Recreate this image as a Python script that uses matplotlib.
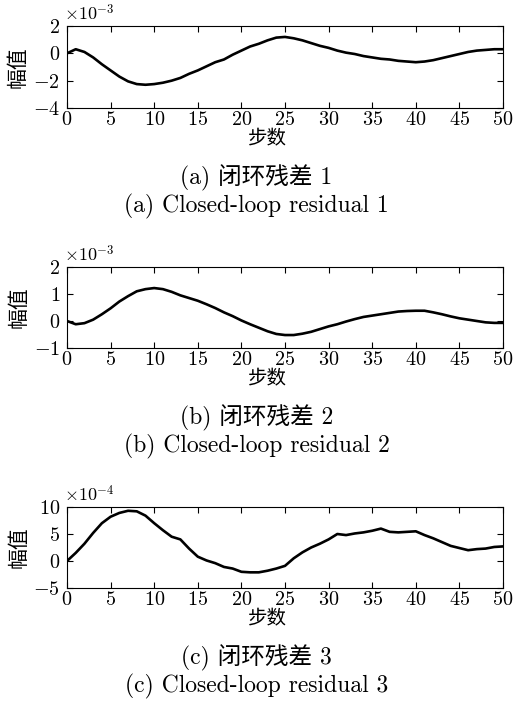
import numpy as np
import matplotlib.pyplot as plt
from matplotlib.ticker import MultipleLocator

plt.rcParams['mathtext.fontset'] = 'cm'
plt.rcParams['font.family'] = ['cmr10', 'Noto Sans CJK SC']
plt.rcParams['axes.unicode_minus'] = False

steps = np.arange(0, 51)

# 闭环残差 1 (x1e-3)
res1 = [0.0, 0.3, 0.1, -0.3, -0.8, -1.25, -1.7, -2.05, -2.25, -2.3,
        -2.25, -2.15, -2.0, -1.8, -1.5, -1.25, -0.95, -0.65, -0.45, -0.1,
        0.2, 0.5, 0.7, 0.95, 1.15, 1.2, 1.1, 0.95, 0.75, 0.55,
        0.4, 0.2, 0.05, -0.05, -0.2, -0.3, -0.4, -0.45, -0.55, -0.6,
        -0.65, -0.6, -0.5, -0.35, -0.2, -0.05, 0.1, 0.2, 0.25, 0.3, 0.3]
# 闭环残差 2 (x1e-3)
res2 = [0.0, -0.12, -0.08, 0.05, 0.25, 0.47, 0.72, 0.92, 1.1, 1.18,
        1.22, 1.18, 1.08, 0.95, 0.85, 0.75, 0.62, 0.48, 0.32, 0.18,
        0.02, -0.12, -0.25, -0.38, -0.48, -0.52, -0.52, -0.47, -0.4, -0.3,
        -0.2, -0.12, -0.02, 0.07, 0.15, 0.2, 0.25, 0.3, 0.35, 0.37,
        0.38, 0.38, 0.32, 0.25, 0.17, 0.1, 0.05, 0.0, -0.05, -0.07, -0.07]
# 闭环残差 3 (x1e-4)
res3 = [0.0, 1.5, 3.2, 5.2, 7.0, 8.2, 8.9, 9.3, 9.2, 8.4,
        7.0, 5.7, 4.5, 4.0, 2.3, 0.8, 0.1, -0.4, -1.1, -1.4,
        -2.0, -2.1, -2.1, -1.8, -1.4, -0.9, 0.5, 1.6, 2.5, 3.2,
        4.0, 5.0, 4.8, 5.1, 5.3, 5.6, 6.0, 5.4, 5.3, 5.4,
        5.5, 4.8, 4.2, 3.5, 2.8, 2.4, 2.0, 2.2, 2.3, 2.6, 2.7]

series = [res1, res2, res3]
ylims = [(-4, 2), (-1, 2), (-5, 10)]
ysteps = [2, 1, 5]
exps = ['-3', '-3', '-4']
cap_cn = ['(a) 闭环残差 1', '(b) 闭环残差 2', '(c) 闭环残差 3']
cap_en = ['(a) Closed-loop residual 1', '(b) Closed-loop residual 2', '(c) Closed-loop residual 3']

W, H = 513, 703
fig = plt.figure(figsize=(W / 100, H / 100), dpi=100)

# 每个子图的像素位置: 上, 下
boxes = [(26, 108), (267, 348), (507, 588)]
left, right = 67, 503

for i in range(3):
    top, bot = boxes[i]
    ax = fig.add_axes([left / W, 1 - bot / H, (right - left) / W, (bot - top) / H])
    ax.plot(steps, series[i], color='black', lw=1.9)
    ax.set_xlim(0, 50)
    ax.set_ylim(*ylims[i])
    ax.xaxis.set_major_locator(MultipleLocator(5))
    ax.yaxis.set_major_locator(MultipleLocator(ysteps[i]))
    ax.set_xticklabels([f'${int(v)}$' for v in ax.get_xticks()])
    ax.set_yticklabels([f'${int(v)}$' for v in ax.get_yticks()])
    ax.tick_params(direction='in', top=True, right=True, labelsize=14.5,
                   length=4, width=0.8)
    ax.tick_params(axis='x', pad=2)
    ax.tick_params(axis='y', pad=5)
    for s in ax.spines.values():
        s.set_linewidth(0.8)
    ax.set_ylabel('幅值', fontsize=15, family='Noto Sans CJK SC', labelpad=3)
    fig.text(267 / W, 1 - (bot + 31) / H, '步数', fontsize=14,
             family='Noto Sans CJK SC', ha='center', va='center')
    fig.text(left / W - 0.005, 1 - (top - 13) / H, r'$\times 10^{' + exps[i] + '}$',
             fontsize=13, ha='left', va='center')
    fig.text(0.5, 1 - (bot + 70) / H, cap_cn[i], fontsize=17, ha='center', va='center')
    fig.text(0.5, 1 - (bot + 98) / H, cap_en[i], fontsize=17, ha='center', va='center')

fig.savefig('out.png', dpi=100)
